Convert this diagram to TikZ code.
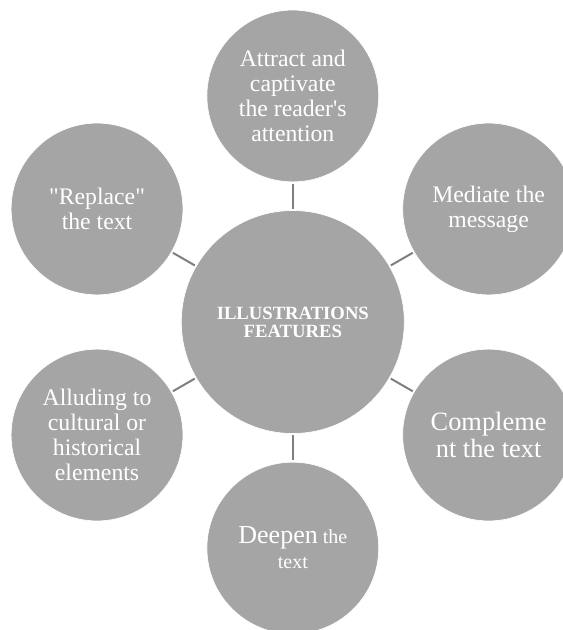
\documentclass[tikz,border=0pt]{standalone}
\usepackage{fontspec}
\setmainfont{Liberation Serif}
\usepackage{tikz}
\usetikzlibrary{positioning}

\definecolor{featgrey}{HTML}{A5A5A5}
\definecolor{linkgrey}{HTML}{7F7F7F}

\begin{document}
\begin{tikzpicture}[
    feature/.style={circle, fill=featgrey, draw=white, line width=0.5pt, minimum size=4.53cm,
      inner sep=0pt, align=center, text=white, font=\fontsize{17.8}{18.8}\selectfont},
    hub/.style={feature, minimum size=5.88cm, font=\bfseries\fontsize{14}{13.5}\selectfont},
    link/.style={draw=linkgrey, line width=1.5pt, shorten >=1pt, shorten <=1pt}
  ]
    \useasboundingbox (-7.72,-8.12) rectangle (7.12,8.49);

    % nodes
    \node[hub] (feat) at (0,0) {ILLUSTRATIONS\\FEATURES};
    \node[feature] (attract) at (90:5.96) {Attract and\\captivate\\the reader\textquotesingle s\\attention};
    \node[feature] (mediate) at (30:5.96) {Mediate the\\message};
    \node[feature, font=\fontsize{19.8}{20.3}\selectfont] (complement) at (-30:5.96) {Compleme\\nt the text};
    \node[feature, font=\fontsize{15}{18.75}\selectfont] (deepen) at (-90:5.96) {{\fontsize{19.5}{18.75}\selectfont Deepen} the\\text};
    \node[feature] (allude) at (-150:5.96) {Alluding to\\cultural or\\historical\\elements};
    \node[feature] (replace) at (150:5.96) {\textquotedbl Replace\textquotedbl\\the text};

    % links
    \draw[link] (feat) -- (attract);
    \draw[link] (feat) -- (mediate);
    \draw[link] (feat) -- (complement);
    \draw[link] (feat) -- (deepen);
    \draw[link] (feat) -- (allude);
    \draw[link] (feat) -- (replace);
\end{tikzpicture}
\end{document}
